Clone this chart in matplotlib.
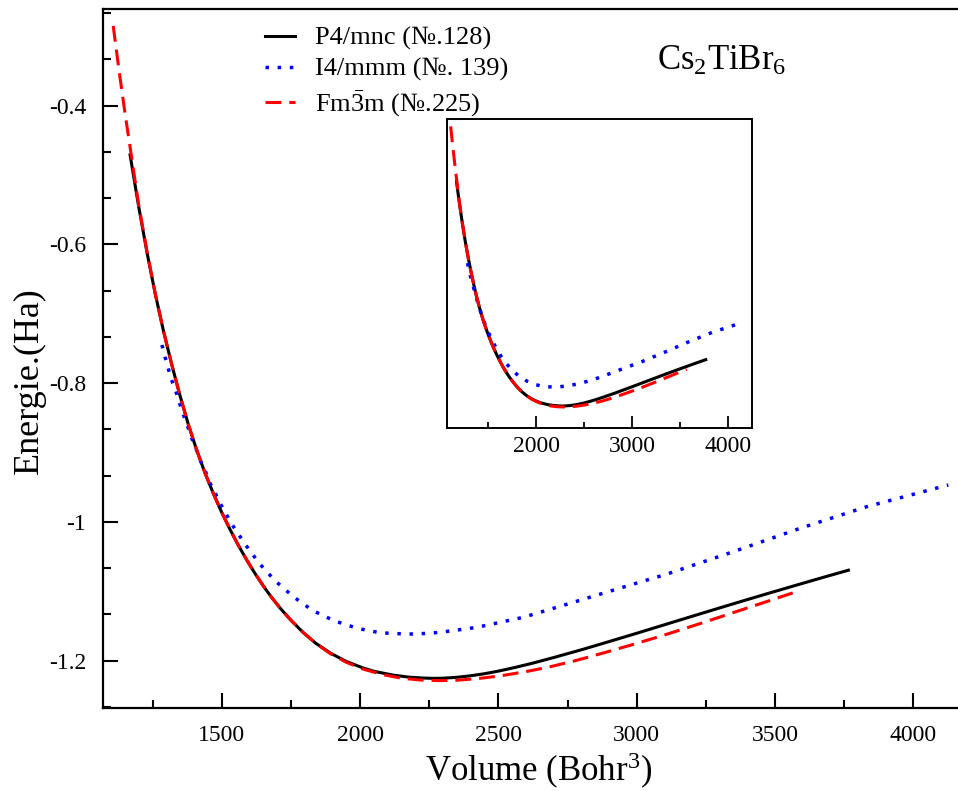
import numpy as np
import matplotlib
matplotlib.use("Agg")
import matplotlib.pyplot as plt
from matplotlib.ticker import MultipleLocator, AutoMinorLocator, FuncFormatter

plt.rcParams['font.family'] = ['Liberation Serif', 'DejaVu Serif']
plt.rcParams['mathtext.fontset'] = 'custom'
plt.rcParams['mathtext.rm'] = 'Liberation Serif'
plt.rcParams['mathtext.it'] = 'Liberation Serif:italic'
plt.rcParams['axes.unicode_minus'] = False

# P4/mnc (No.128)
vol_p4 = [1169, 1200, 1230, 1260, 1290, 1320, 1349, 1380, 1410, 1440, 1470, 1500,
          1530, 1560, 1590, 1620, 1651, 1680, 1711, 1750, 1795, 1840, 1892, 1950,
          2012, 2050, 2120, 2180, 2230, 2265, 2300, 2350, 2400, 2450, 2500, 2560,
          2626, 2700, 2807, 2900, 3000, 3108, 3230, 3349, 3470, 3590, 3680, 3765]
e_p4 = [-0.471, -0.5454, -0.6114, -0.6714, -0.7254, -0.7740, -0.8175, -0.8603,
        -0.8969, -0.9299, -0.9593, -0.9863, -1.0109, -1.0337, -1.0547, -1.0742,
        -1.0928, -1.1088, -1.1243, -1.1418, -1.1598, -1.1751, -1.1891, -1.2013,
        -1.2109, -1.2155, -1.2211, -1.2241, -1.2253, -1.2257, -1.2255, -1.2242,
        -1.2220, -1.2190, -1.2153, -1.2100, -1.2036, -1.1957, -1.1837, -1.1727,
        -1.1607, -1.1475, -1.1326, -1.1182, -1.1038, -1.0898, -1.0794, -1.0698]

# I4/mmm (No. 139)
vol_i4 = [1284, 1295, 1307, 1319, 1334, 1347, 1361, 1376, 1389, 1407, 1422, 1440,
          1455, 1476, 1494, 1515, 1536, 1584, 1636, 1693, 1759, 1829, 1906, 1990,
          2072, 2130, 2181, 2235, 2289, 2422, 2590, 2759, 2928, 3108, 3349, 3590,
          3831, 4126]
e_i4 = [-0.745, -0.762, -0.779, -0.7955, -0.8114, -0.828, -0.845, -0.861, -0.877,
        -0.894, -0.911, -0.926, -0.942, -0.958, -0.973, -0.988, -1.003, -1.032,
        -1.060, -1.085, -1.108, -1.128, -1.1426, -1.1536, -1.160, -1.1612, -1.1618,
        -1.1610, -1.1594, -1.1522, -1.1377, -1.1175, -1.0970, -1.0755, -1.0431,
        -1.0094, -0.9782, -0.9469]

# Fm-3m (No.225)
vol_fm = [1108, 1130, 1151, 1171, 1200, 1230, 1260, 1290, 1320, 1349, 1380, 1410,
          1440, 1470, 1500, 1530, 1560, 1590, 1620, 1651, 1680, 1711, 1750, 1795,
          1840, 1892, 1950, 2012, 2084, 2150, 2220, 2289, 2350, 2420, 2506, 2600,
          2687, 2780, 2885, 3000, 3108, 3230, 3349, 3460, 3566]
e_fm = [-0.285, -0.352, -0.412, -0.465, -0.543, -0.610, -0.6714, -0.7254, -0.7740,
        -0.8175, -0.8603, -0.8969, -0.9299, -0.9593, -0.9863, -1.0109, -1.0337,
        -1.0547, -1.0742, -1.0928, -1.1088, -1.1243, -1.1418, -1.1598, -1.1751,
        -1.1900, -1.2025, -1.2125, -1.2205, -1.2255, -1.2282, -1.2290, -1.2284,
        -1.2263, -1.2222, -1.2160, -1.2090, -1.2000, -1.1885, -1.1753, -1.1622,
        -1.1466, -1.1309, -1.1163, -1.1022]

labels = ['P4/mnc (\u2116.128)', 'I4/mmm (\u2116. 139)',
          r'Fm$\bar{3}$m' + ' (\u2116.225)']

fig = plt.figure(figsize=(9.58, 7.91), dpi=100)
ax = fig.add_axes([0.1072, 0.1049, 0.8928, 0.8837])

def draw(a):
    a.plot(vol_p4, e_p4, color='black', lw=2.2, label=labels[0])
    a.plot(vol_i4, e_i4, color='blue', lw=2.5, linestyle=(0, (1, 2.5)), label=labels[1])
    a.plot(vol_fm, e_fm, color='red', lw=2.2, linestyle=(0, (5.2, 2.6)), label=labels[2])

draw(ax)
ax.set_xlim(1070, 4161)
ax.set_ylim(-1.2685, -0.2606)
ax.xaxis.set_major_locator(MultipleLocator(500))
ax.xaxis.set_minor_locator(AutoMinorLocator(2))
ax.yaxis.set_major_locator(MultipleLocator(0.2))
ax.yaxis.set_minor_locator(AutoMinorLocator(3))
ax.yaxis.set_major_formatter(FuncFormatter(lambda v, p: '%g' % round(v, 2)))
ax.tick_params(which='both', direction='in', top=False, right=False, width=1.5,
               labelsize=17, pad=12)
ax.tick_params(which='major', length=11)
ax.tick_params(which='minor', length=6)
for s in ['left', 'bottom', 'top']:
    ax.spines[s].set_linewidth(1.6)
ax.spines['right'].set_visible(False)
ax.set_xlabel('Volume (Bohr$^3$)', fontsize=25, labelpad=4)
ax.xaxis.label.set_x(0.509)
ax.set_ylabel('Energie.(Ha)', fontsize=26)
ax.yaxis.set_label_coords(-0.066, 0.469)

leg = ax.legend(loc='upper left', bbox_to_anchor=(0.178, 0.99), frameon=False,
                fontsize=19, handlelength=1.1, handletextpad=0.76, labelspacing=0.27,
                borderaxespad=0)

fig.text(0.686, 0.9115, r'Cs$_2$TiBr$_6$', fontsize=25, va='baseline')

# inset
axi = fig.add_axes([0.4663, 0.4593, 0.319, 0.3903])
draw(axi)
axi.set_xlim(1067, 4250)
axi.set_ylim(-1.2987, -0.260)
axi.xaxis.set_major_locator(MultipleLocator(1000))
axi.xaxis.set_minor_locator(AutoMinorLocator(2))
axi.set_yticks([])
axi.tick_params(which='both', direction='in', top=False, right=False, width=1.3,
                labelsize=17, pad=6)
axi.tick_params(which='major', length=9)
axi.tick_params(which='minor', length=4)
for s in axi.spines.values():
    s.set_linewidth(1.4)

fig.savefig('out.png', dpi=100)
